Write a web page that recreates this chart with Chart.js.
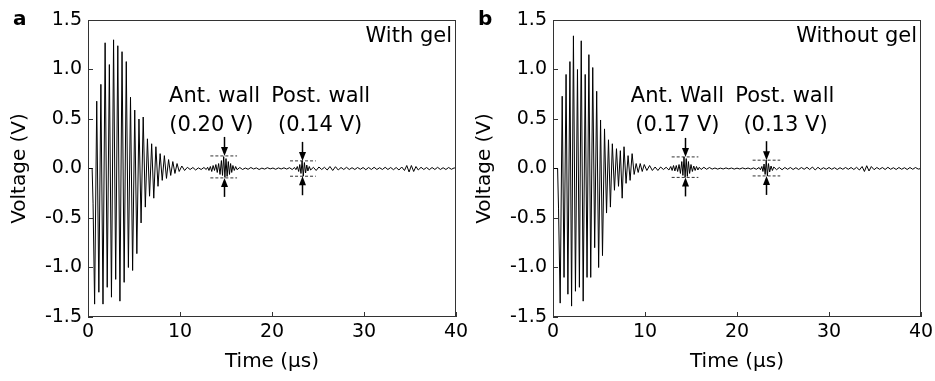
<!DOCTYPE html>
<html>
<head>
<meta charset="utf-8">
<script src="https://cdn.jsdelivr.net/npm/chart.js@4.4.0/dist/chart.umd.min.js"></script>
<style>
html, body { margin: 0; padding: 0; background: #fff; }
.panel { position: absolute; top: 0; height: 381px; }
#pa { left: 0; width: 470px; }
#pb { left: 470px; width: 465px; }
</style>
</head>
<body>
<div class="panel" id="pa"><canvas id="ca" width="470" height="381"></canvas></div>
<div class="panel" id="pb"><canvas id="cb" width="465" height="381"></canvas></div>
<script>
// waveform a (with gel): time in us, voltage in V
var timeA = [
  0, 0.45, 0.55, 0.72, 0.95, 1.18, 1.40, 1.63, 1.86, 2.09,
  2.32, 2.55, 2.78, 3.01, 3.24, 3.47, 3.70, 3.93, 4.16, 4.39,
  4.62, 4.85, 5.08, 5.31, 5.54, 5.77, 6.00, 6.23, 6.46, 6.69,
  6.92, 7.15, 7.38, 7.61, 7.84, 8.07, 8.30, 8.53, 8.76, 8.99,
  9.22, 9.45, 9.68, 9.91, 10.2, 10.5, 10.8, 11.1, 11.4, 11.7,
  12.0, 12.3, 12.6, 12.85, 13.0, 13.15, 13.3, 13.45, 13.6, 13.75,
  13.9, 14.05, 14.2, 14.35, 14.5, 14.62, 14.75, 14.88, 15.0, 15.12,
  15.25, 15.38, 15.5, 15.62, 15.75, 15.9, 16.05, 16.2, 16.5, 16.8,
  17.1, 17.4, 17.7, 18.0, 18.3, 18.6, 18.9, 19.2, 19.5, 19.8,
  20.1, 20.4, 20.7, 21.0, 21.3, 21.6, 21.9, 22.2, 22.45, 22.6,
  22.75, 22.9, 23.02, 23.15, 23.27, 23.4, 23.52, 23.65, 23.78, 23.9,
  24.05, 24.2, 24.5, 24.8, 25.1, 25.4, 25.7, 26.0, 26.3, 26.6,
  26.9, 27.2, 27.5, 27.8, 28.1, 28.4, 28.7, 29.0, 29.3, 29.6,
  29.9, 30.2, 30.5, 30.8, 31.1, 31.4, 31.7, 32.0, 32.3, 32.6,
  32.9, 33.2, 33.5, 33.8, 34.1, 34.4, 34.65, 34.9, 35.15, 35.4,
  35.65, 35.9, 36.2, 36.5, 36.8, 37.1, 37.4, 37.7, 38.0, 38.3,
  38.6, 38.9, 39.2, 39.5, 39.8, 40.0
];
var voltA = [
  0, 0, -0.35, -1.37, 0.68, -1.25, 0.85, -1.37, 1.27, -1.20,
  1.05, -1.30, 1.30, -1.12, 1.24, -1.34, 1.18, -1.15, 1.08, -1.00,
  0.72, -1.03, 0.59, -0.86, 0.50, -0.55, 0.52, -0.39, 0.30, -0.28,
  0.25, -0.30, 0.22, -0.18, 0.15, -0.12, 0.13, -0.10, 0.09, -0.07,
  0.07, -0.05, 0.05, -0.03, 0.025, -0.02, 0.012, -0.01, 0.01, -0.015,
  0.006, -0.01, 0.01, -0.01, 0.012, -0.02, 0.02, -0.03, 0.03, -0.02,
  0.04, -0.04, 0.05, -0.06, 0.08, -0.07, 0.12, -0.09, 0.10, -0.08,
  0.07, -0.06, 0.05, -0.04, 0.03, -0.02, 0.02, -0.012, 0.01, -0.01,
  0.005, -0.008, 0.01, -0.005, 0.006, -0.01, 0.004, -0.006, 0.008, -0.004,
  0.005, -0.008, 0.006, -0.005, 0.007, -0.006, 0.008, -0.01, 0.01, -0.012,
  0.02, -0.03, 0.04, -0.05, 0.077, -0.078, 0.06, -0.045, 0.035, -0.025,
  0.02, -0.015, 0.012, -0.02, 0.015, -0.01, 0.012, -0.015, 0.02, -0.02,
  0.018, -0.015, 0.01, -0.01, 0.012, -0.01, 0.008, -0.01, 0.01, -0.008,
  0.01, -0.012, 0.01, -0.01, 0.012, -0.01, 0.008, -0.01, 0.012, -0.01,
  0.01, -0.012, 0.01, -0.015, 0.015, -0.02, 0.03, -0.035, 0.03, -0.03,
  0.02, -0.015, 0.012, -0.01, 0.01, -0.012, 0.01, -0.01, 0.012, -0.01,
  0.008, -0.01, 0.01, -0.008, 0.006, 0
];

// waveform b (without gel)
var timeB = [
  0, 0.5, 0.6, 0.78, 1.00, 1.20, 1.42, 1.62, 1.84, 2.02,
  2.22, 2.44, 2.66, 2.87, 3.07, 3.28, 3.50, 3.70, 3.90, 4.10,
  4.32, 4.53, 4.75, 4.96, 5.17, 5.38, 5.60, 5.82, 6.03, 6.24,
  6.45, 6.68, 6.90, 7.12, 7.32, 7.52, 7.72, 7.94, 8.16, 8.38,
  8.60, 8.82, 9.04, 9.26, 9.48, 9.70, 9.92, 10.2, 10.5, 10.8,
  11.1, 11.4, 11.7, 12.0, 12.3, 12.6, 12.8, 12.95, 13.1, 13.25,
  13.4, 13.55, 13.7, 13.85, 14.0, 14.12, 14.24, 14.36, 14.48, 14.6,
  14.72, 14.85, 15.0, 15.15, 15.3, 15.45, 15.6, 15.75, 15.9, 16.1,
  16.4, 16.7, 17.0, 17.3, 17.6, 17.9, 18.2, 18.5, 18.8, 19.1,
  19.4, 19.7, 20.0, 20.3, 20.6, 20.9, 21.2, 21.5, 21.8, 22.1,
  22.4, 22.55, 22.7, 22.82, 22.94, 23.06, 23.18, 23.3, 23.42, 23.55,
  23.7, 23.85, 24.0, 24.3, 24.6, 24.9, 25.2, 25.5, 25.8, 26.1,
  26.4, 26.7, 27.0, 27.3, 27.6, 27.9, 28.2, 28.5, 28.8, 29.1,
  29.4, 29.7, 30.0, 30.3, 30.6, 30.9, 31.2, 31.5, 31.8, 32.1,
  32.4, 32.7, 33.0, 33.3, 33.6, 33.85, 34.1, 34.35, 34.6, 34.9,
  35.2, 35.5, 35.8, 36.1, 36.4, 36.7, 37.0, 37.3, 37.6, 37.9,
  38.2, 38.5, 38.8, 39.1, 39.4, 39.7, 40.0
];
var voltB = [
  0, 0, -0.40, -1.36, 0.73, -1.10, 0.95, -1.27, 1.08, -1.39,
  1.34, -1.24, 1.00, -1.20, 1.29, -1.34, 0.95, -1.10, 1.15, -1.10,
  1.02, -0.80, 0.78, -1.00, 0.49, -0.88, 0.40, -0.45, 0.29, -0.39,
  0.25, -0.22, 0.20, -0.18, 0.18, -0.30, 0.22, -0.15, 0.13, -0.12,
  0.15, -0.06, 0.05, -0.04, 0.05, -0.03, 0.04, -0.02, 0.03, -0.02,
  0.015, -0.02, 0.015, -0.01, 0.012, -0.015, 0.02, -0.02, 0.03, -0.025,
  0.03, -0.03, 0.04, -0.05, 0.07, -0.07, 0.117, -0.09, 0.10, -0.08,
  0.07, -0.05, 0.04, -0.03, 0.025, -0.02, 0.02, -0.015, 0.012, -0.01,
  0.012, -0.008, 0.01, -0.006, 0.005, -0.006, 0.004, -0.005, 0.006, -0.004,
  0.005, -0.006, 0.004, -0.005, 0.006, -0.004, 0.005, -0.006, 0.006, -0.008,
  0.01, -0.012, 0.02, -0.03, 0.045, -0.06, 0.084, -0.075, 0.05, -0.035,
  0.025, -0.02, 0.015, -0.012, 0.01, -0.012, 0.01, -0.008, 0.01, -0.01,
  0.008, -0.01, 0.01, -0.008, 0.012, -0.01, 0.015, -0.015, 0.012, -0.01,
  0.008, -0.008, 0.01, -0.008, 0.008, -0.01, 0.008, -0.008, 0.01, -0.008,
  0.01, -0.01, 0.012, -0.015, 0.02, -0.03, 0.028, -0.025, 0.02, -0.012,
  0.01, -0.008, 0.01, -0.01, 0.012, -0.008, 0.008, -0.01, 0.01, -0.008,
  0.008, -0.01, 0.01, -0.008, 0.01, -0.006, 0
];

// echoes: ant. wall, post. wall
var echoTimeA = [14.77, 23.31];
var echoHighA = [0.127, 0.077];
var echoLowA = [-0.095, -0.078];
var dashFromA = [13.3, 21.96];
var dashToA = [16.2, 24.76];
var echoNameA = ['Ant. wall', 'Post. wall'];
var echoValueA = ['(0.20 V)', '(0.14 V)'];

var echoTimeB = [14.34, 23.2];
var echoHighB = [0.117, 0.084];
var echoLowB = [-0.09, -0.075];
var dashFromB = [12.9, 21.7];
var dashToB = [15.8, 24.7];
var echoNameB = ['Ant. Wall', 'Post. wall'];
var echoValueB = ['(0.17 V)', '(0.13 V)'];

var FONT = '"DejaVu Sans", sans-serif';
Chart.defaults.font.family = FONT;
Chart.defaults.color = '#000';

function pairs(ts, vs) {
  return ts.map(function (t, i) { return {x: t, y: vs[i]}; });
}

function dashSets(from, to, high, low) {
  var sets = [];
  for (var i = 0; i < from.length; i++) {
    [high[i], low[i]].forEach(function (v) {
      sets.push({
        data: [{x: from[i], y: v}, {x: to[i], y: v}],
        borderColor: '#333', borderWidth: 1, borderDash: [3, 2],
        pointRadius: 0
      });
    });
  }
  return sets;
}

function arrow(ctx, px, tip, len, dir) {
  ctx.beginPath();
  ctx.moveTo(px, tip - dir * len);
  ctx.lineTo(px, tip - dir * 6);
  ctx.stroke();
  ctx.beginPath();
  ctx.moveTo(px, tip);
  ctx.lineTo(px - 3.5, tip - dir * 9);
  ctx.lineTo(px + 3.5, tip - dir * 9);
  ctx.closePath();
  ctx.fill();
}

var decor = {
  id: 'decor',
  afterDatasetsDraw: function (chart, args, o) {
    var ctx = chart.ctx, a = chart.chartArea;
    var xs = chart.scales.x, ys = chart.scales.y;
    ctx.save();
    ctx.strokeStyle = '#333';
    ctx.lineWidth = 1;
    ctx.strokeRect(a.left + 0.5, a.top + 0.5, a.right - a.left - 1, a.bottom - a.top - 1);

    ctx.fillStyle = '#000';
    ctx.strokeStyle = '#000';
    ctx.lineWidth = 1.5;
    for (var i = 0; i < o.times.length; i++) {
      var px = Math.round(xs.getPixelForValue(o.times[i])) + 0.5;
      arrow(ctx, px, ys.getPixelForValue(o.high[i]), 19, 1);
      arrow(ctx, px, ys.getPixelForValue(o.low[i]), 19, -1);
    }

    ctx.font = '21px ' + FONT;
    ctx.textAlign = 'center';
    ctx.textBaseline = 'alphabetic';
    for (var j = 0; j < o.names.length; j++) {
      ctx.fillText(o.names[j], xs.getPixelForValue(o.nameAt[j][0]), ys.getPixelForValue(o.nameAt[j][1]));
      ctx.fillText(o.values[j], xs.getPixelForValue(o.valueAt[j][0]), ys.getPixelForValue(o.valueAt[j][1]));
    }

    ctx.textAlign = 'right';
    ctx.fillText(o.title, a.right - 4, a.top + 22);

    ctx.font = 'bold 20px ' + FONT;
    ctx.textAlign = 'left';
    ctx.fillText(o.letter, o.letterX, 25);
    ctx.restore();
  }
};

function makePanel(id, ts, vs, echo, cfg) {
  var datasets = [{
    data: pairs(ts, vs),
    borderColor: '#000', borderWidth: 1, pointRadius: 0, tension: 0
  }].concat(dashSets(echo.from, echo.to, echo.high, echo.low));

  new Chart(document.getElementById(id), {
    type: 'line',
    data: {datasets: datasets},
    plugins: [decor],
    options: {
      responsive: false,
      animation: false,
      layout: {padding: {left: 0, top: 20, right: 14, bottom: 0}},
      plugins: {
        legend: {display: false},
        tooltip: {enabled: false},
        decor: {
          times: echo.times, high: echo.high, low: echo.low,
          names: echo.names, values: echo.values,
          nameAt: cfg.nameAt, valueAt: cfg.valueAt,
          title: cfg.title, letter: cfg.letter, letterX: cfg.letterX
        }
      },
      scales: {
        x: {
          type: 'linear', min: 0, max: 40,
          afterFit: function (s) { s.height = 64; s.paddingLeft = 0; s.paddingRight = 0; },
          grid: {drawOnChartArea: false, drawTicks: true, tickLength: -5, color: '#333'},
          border: {display: false},
          ticks: {stepSize: 10, padding: 9, font: {size: 19}},
          title: {display: true, text: 'Time (µs)', font: {size: 20}, padding: {top: 0, bottom: 7}}
        },
        y: {
          min: -1.5, max: 1.5,
          afterFit: function (s) { s.width = cfg.axisWidth; s.paddingTop = 0; s.paddingBottom = 0; },
          grid: {drawOnChartArea: false, drawTicks: true, tickLength: -5, color: '#333'},
          border: {display: false},
          ticks: {stepSize: 0.5, padding: 11, font: {size: 19},
            callback: function (v) { return v.toFixed(1); }},
          title: {display: true, text: 'Voltage (V)', font: {size: 20}, padding: {top: cfg.titlePad, bottom: 0}}
        }
      }
    }
  });
}

makePanel('ca', timeA, voltA, {
  times: echoTimeA, high: echoHighA, low: echoLowA,
  from: dashFromA, to: dashToA, names: echoNameA, values: echoValueA
}, {
  axisWidth: 88, titlePad: 8, title: 'With gel', letter: 'a', letterX: 13,
  nameAt: [[13.75, 0.67], [25.29, 0.67]], valueAt: [[13.42, 0.375], [25.23, 0.375]]
});

makePanel('cb', timeB, voltB, {
  times: echoTimeB, high: echoHighB, low: echoLowB,
  from: dashFromB, to: dashToB, names: echoNameB, values: echoValueB
}, {
  axisWidth: 83, titlePad: 3, title: 'Without gel', letter: 'b', letterX: 8,
  nameAt: [[13.52, 0.67], [25.2, 0.67]], valueAt: [[13.52, 0.375], [25.27, 0.375]]
});
</script>
</body>
</html>
